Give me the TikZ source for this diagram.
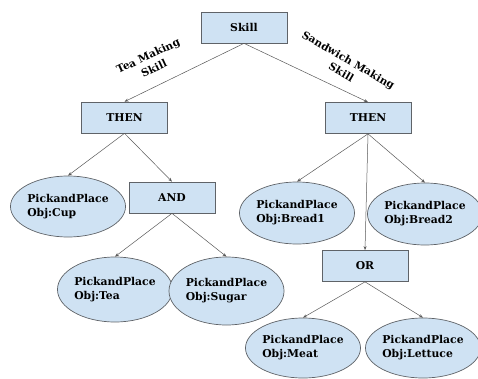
\documentclass[tikz,border=0pt]{standalone}
\usepackage{fontspec}
\setmainfont{DejaVu Serif}
\usetikzlibrary{shapes.geometric,arrows.meta}
\definecolor{boxfill}{HTML}{CFE2F3}
\definecolor{boxline}{HTML}{5F6368}
\definecolor{edgecol}{HTML}{595959}
\begin{document}
\begin{tikzpicture}[x=1pt,y=-1pt,
  font=\fontsize{10.8}{14}\selectfont\bfseries,
  opbox/.style={draw=boxline,fill=boxfill,line width=0.7pt,minimum width=86pt,minimum height=31pt,inner sep=0pt},
  actnode/.style={draw=boxline,fill=boxfill,line width=0.7pt,ellipse,inner sep=0pt,align=left},
  link/.style={draw=edgecol,line width=0.5pt,-{Stealth[length=4pt,width=3pt]}},
  edgelabel/.style={align=center,inner sep=0pt,font=\fontsize{10.5}{14}\selectfont\bfseries}]
\useasboundingbox (0,0) rectangle (478,379);

% control nodes
\node[opbox] (skill) at (244,27.5) {Skill};
\node[opbox] (thenL) at (124.5,117.5) {THEN};
\node[opbox] (thenR) at (368,118) {THEN};
\node[opbox] (and) at (172,197.5) {AND};
\node[opbox] (or) at (365,266) {OR};

% actions
\node[actnode,minimum width=112pt,minimum height=61pt] (cup) at (68,206.5) {PickandPlace\\Obj:Cup};
\node[actnode,minimum width=112pt,minimum height=65pt] (tea) at (115,289.5) {PickandPlace\\Obj:Tea};
\node[actnode,minimum width=107pt,minimum height=68pt] (sugar) at (226.5,291) {PickandPlace\\Obj:Sugar};
\node[actnode,minimum width=112pt,minimum height=62pt] (bread1) at (297,213) {PickandPlace\\Obj:Bread1};
\node[actnode,minimum width=102pt,minimum height=62pt] (bread2) at (425,214) {PickandPlace\\Obj:Bread2};
\node[actnode,minimum width=110pt,minimum height=60pt] (meat) at (303,348) {PickandPlace\\Obj:Meat};
\node[actnode,minimum width=110pt,minimum height=60pt] (lettuce) at (423,348) {PickandPlace\\Obj:Lettuce};

% connectors
\draw[link] (skill.south) -- (thenL.north);
\draw[link] (skill.south) -- (thenR.north);
\draw[link] (thenL.south) -- (cup.north);
\draw[link] (thenL.south) -- (and.north);
\draw[link] (and.south) -- (tea.north);
\draw[link] (and.south) -- (sugar.north);
\draw[link] (thenR.south) -- (bread1.north);
\draw[link] (thenR.south) -- (bread2.north);
\draw[link] (thenR.south) -- (or.north);
\draw[link] (or.south) -- (meat.north);
\draw[link] (or.south) -- (lettuce.north);

% skill labels
\node[edgelabel,rotate=25] (tealbl) at (151,62) {Tea Making\\Skill};
\node[edgelabel,rotate=-30] (sandlbl) at (345,66) {Sandwich Making\\Skill};
\end{tikzpicture}
\end{document}
